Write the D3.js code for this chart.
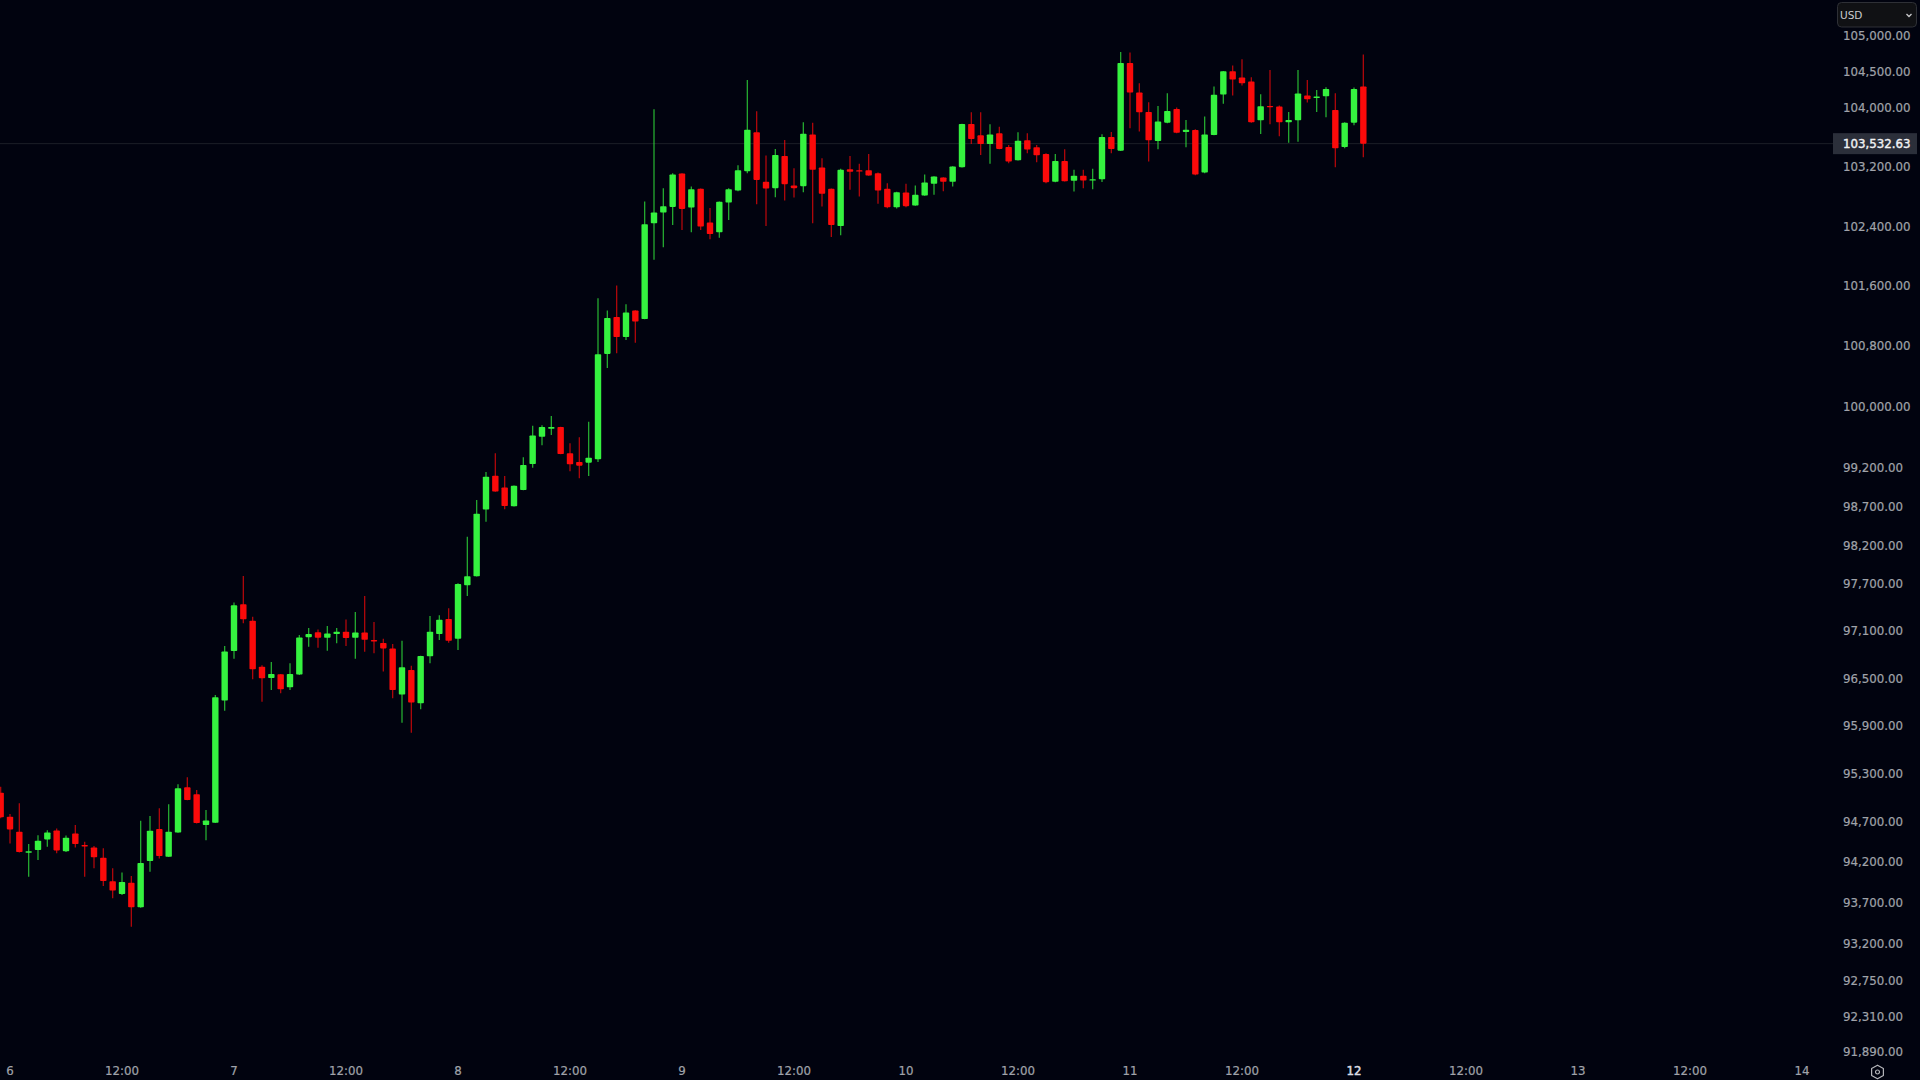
<!DOCTYPE html>
<html>
<head>
<meta charset="utf-8">
<title>BTC/USD 1h</title>
<script src="https://cdn.jsdelivr.net/npm/d3@7"></script>
<style>
  html, body { margin: 0; padding: 0; background: #01030f; overflow: hidden; }
  svg { display: block; }
  text { font-family: "DejaVu Sans", sans-serif; }
  .domain, .tick line { display: none; }
</style>
</head>
<body>
<svg></svg>
<script>
// hourly candles, first one is 5 May 23:00
const firstCandle = Date.UTC(2025, 4, 5, 23);

const opens = [
  95059,94760,94573,94313,94346,94478,94589,94330,94552,94408,94379,94252,
  93960,93804,93943,93639,94210,94606,94264,94564,95126,95039,94656,94685,
  96215,96843,97439,97230,96645,96501,96548,96383,96544,97020,97084,97012,
  97059,97089,97012,97080,96983,96945,96877,96291,96603,96181,96776,97059,
  97251,97000,97683,97799,98658,99099,98944,98701,98913,99251,99606,99711,
  99733,99390,99277,99268,99312,100695,101185,100918,101270,101158,102437,102581,
  102657,103108,102648,102901,102446,102315,102716,102878,103140,103667,102995,102910,
  103347,102946,102937,103639,103189,102901,102401,103167,103153,103153,103113,102901,
  102653,102851,102676,102811,102968,103054,102995,103194,103781,103626,103509,103653,
  103469,103288,103559,103464,103374,102995,103279,103009,103077,103013,103031,103603,
  103418,104616,104210,103945,103549,103799,103986,103671,103698,103121,103630,104182,
  104502,104415,104360,103831,104027,104018,103803,103831,104169,104137,104160,103972,
  103468,103799,104292,
];
const highs = [
  95134,94793,94927,94420,94531,94593,94614,94527,94656,94449,94395,94367,
  94120,94067,94025,94710,94768,94864,94914,95164,95251,95093,94843,96286,
  96906,97461,97803,97281,96662,96704,96552,96687,97046,97136,97119,97161,
  97136,97246,97341,97546,97213,97000,96932,96974,96658,96785,97290,97298,
  97388,97710,98308,98783,99147,99390,99095,98970,99338,99751,99755,99878,
  99738,99520,99598,99804,101434,101270,101603,101354,101275,102730,103982,102910,
  103113,103113,102932,102905,102644,102730,102910,103221,104383,103954,103351,103442,
  103563,103180,103803,103799,103315,102906,103171,103347,103239,103374,103122,102977,
  102860,102968,102946,103095,103072,103059,103207,103785,103940,103940,103776,103744,
  103496,103667,103653,103496,103383,103374,103437,103158,103158,103171,103640,103671,
  104767,104758,104338,104077,104027,104201,104004,103835,103708,103881,104292,104506,
  104580,104666,104420,104187,104520,104032,103945,104520,104383,104246,104283,104201,
  103803,104278,104730,
];
const lows = [
  94740,94428,94315,94017,94223,94387,94305,94321,94379,94017,94120,93902,
  93750,93791,93401,93635,94079,94243,94260,94560,94965,94677,94469,94682,
  96088,96746,97196,96485,96202,96350,96307,96350,96540,96898,96885,96848,
  96941,96907,96746,96835,96814,96582,96244,95936,95810,96105,96687,96983,
  96949,96856,97547,97795,98502,98888,98662,98697,98909,99203,99494,99628,
  99377,99156,99065,99095,99277,100510,100703,100879,100844,101154,101946,102115,
  102414,102347,102315,102347,102221,102244,102482,102869,103113,102694,102401,102788,
  102743,102784,102856,102437,102662,102252,102275,102887,102797,103077,102698,102639,
  102635,102653,102672,102807,102820,102869,102932,103190,103509,103360,103239,103438,
  103248,103284,103383,103261,102977,102991,103000,102865,102910,102896,102992,103383,
  103414,103721,103680,103270,103436,103790,103653,103463,103085,103112,103626,104055,
  104169,104306,103799,103644,103776,103612,103526,103540,104073,103945,103872,103193,
  103450,103762,103328,
];
const closes = [
  94752,94602,94321,94330,94461,94564,94342,94498,94420,94391,94256,93964,
  93845,93951,93639,94186,94585,94272,94573,95114,94968,94681,94714,96257,
  96839,97426,97247,96611,96497,96552,96358,96552,97016,97059,97012,97067,
  97089,97008,97080,96987,96966,96877,96350,96637,96190,96780,97089,97243,
  96974,97700,97799,98606,99086,98892,98705,98966,99238,99624,99733,99733,
  99381,99247,99229,99333,100690,101172,100918,101243,101123,102423,102581,102667,
  103095,102630,102896,102392,102293,102725,102896,103153,103703,103022,102905,103360,
  102964,102910,103648,103158,102833,102414,103158,103131,103135,103081,102878,102653,
  102856,102667,102820,102986,103068,102995,103203,103781,103577,103509,103639,103442,
  103270,103554,103433,103356,102991,103279,103004,103077,103013,103031,103603,103441,
  104616,104210,103940,103558,103813,103959,103662,103703,103094,103639,104178,104502,
  104388,104338,103803,104023,104009,103803,103835,104196,104118,104155,104260,103450,
  103799,104260,103513,
];

const lastPrice = 103532.63;
const currency = "USD";

const priceTicks = [
  105000, 104500, 104000, 103200, 102400, 101600, 100800, 100000, 99200, 98700,
  98200, 97700, 97100, 96500, 95900, 95300, 94700, 94200, 93700, 93200, 92750,
  92310, 91890,
];
const timeLabels = [
  "6", "12:00", "7", "12:00", "8", "12:00", "9", "12:00", "10", "12:00", "11",
  "12:00", "12", "12:00", "13", "12:00", "14",
];

const width = 1920;
const height = 1080;
const upColor = "#35f23f";
const downColor = "#fb0a0a";
const axisColor = "#a0a3aa";

const svg = d3.select("svg").attr("width", width).attr("height", height);
const hour = 3600 * 1000;
const timeTicks = timeLabels.map((d, i) => new Date(Date.UTC(2025, 4, 6) + i * 12 * hour));

const xScale = d3
  .scaleUtc()
  .domain([new Date(Date.UTC(2025, 4, 6)), new Date(Date.UTC(2025, 4, 14))])
  .range([10, 1802]);
const yScale = d3.scaleLog().domain([91890, 105000]).range([1051, 35]);

const candles = opens.map((open, i) => ({
  time: new Date(firstCandle + i * hour),
  open: open,
  high: highs[i],
  low: lows[i],
  close: closes[i],
}));

const candleColor = (d) => (d.close >= d.open ? upColor : downColor);
// the app's line sits on the last candle's close
const lastY = yScale(closes[closes.length - 1]);

const drawBackground = () => {
  svg.append("rect").attr("width", width).attr("height", height).attr("fill", "#01030f");
};

const drawPriceLine = () => {
  svg
    .append("line")
    .attr("x1", 0)
    .attr("x2", 1834)
    .attr("y1", lastY)
    .attr("y2", lastY)
    .attr("stroke", "#1c1f28")
    .attr("stroke-width", 1);
};

const drawCandles = () => {
  const g = svg.append("g").selectAll("g").data(candles).enter().append("g");

  g.append("line")
    .attr("x1", (d) => xScale(d.time))
    .attr("x2", (d) => xScale(d.time))
    .attr("y1", (d) => yScale(d.high))
    .attr("y2", (d) => yScale(d.low))
    .attr("stroke", candleColor)
    .attr("stroke-opacity", 0.7)
    .attr("stroke-width", 1.3);

  g.append("rect")
    .attr("x", (d) => xScale(d.time) - 3.2)
    .attr("width", 6.4)
    .attr("y", (d) => yScale(Math.max(d.open, d.close)))
    .attr("height", (d) => Math.max(1.4, Math.abs(yScale(d.open) - yScale(d.close))))
    .attr("rx", 0.8)
    .attr("fill", candleColor);
};

const drawAxes = () => {
  const yAxis = d3
    .axisRight(yScale)
    .tickValues(priceTicks)
    .tickFormat(d3.format(",.2f"))
    .tickSize(0)
    .tickPadding(0);
  const yAxisGroup = svg.append("g").attr("transform", "translate(1843, 0)").call(yAxis);
  yAxisGroup
    .selectAll("text")
    .attr("fill", axisColor)
    .attr("stroke", axisColor)
    .attr("stroke-width", 0.2)
    .attr("dy", "0.34em")
    .style("font-size", "11.8px");

  const xAxis = d3
    .axisBottom(xScale)
    .tickValues(timeTicks)
    .tickFormat((d, i) => timeLabels[i])
    .tickSize(0)
    .tickPadding(0);
  const xAxisGroup = svg.append("g").attr("transform", "translate(-0.5, 1067)").call(xAxis);
  xAxisGroup
    .selectAll("text")
    .attr("fill", (d, i) => (timeLabels[i] === "12" ? "#dcdde1" : axisColor))
    .attr("stroke", (d, i) => (timeLabels[i] === "12" ? "#dcdde1" : axisColor))
    .attr("stroke-width", (d, i) => (timeLabels[i] === "12" ? 0.5 : 0.2))
    .style("font-size", "11.8px");
};

const drawPriceLabel = () => {
  svg
    .append("rect")
    .attr("x", 1833)
    .attr("y", lastY - 10.5)
    .attr("width", 84)
    .attr("height", 21)
    .attr("fill", "#2b2f3a");
  svg
    .append("text")
    .attr("x", 1843)
    .attr("y", lastY)
    .attr("dy", "0.36em")
    .attr("fill", "#f1f2f4")
    .attr("stroke", "#f1f2f4")
    .attr("stroke-width", 0.4)
    .style("font-size", "11.8px")
    .text(d3.format(",.2f")(lastPrice));
};

const drawCurrencyBox = () => {
  // covers the top of the 105,000 label, like the dropdown does in the app
  svg.append("rect").attr("x", 1834).attr("y", 0).attr("width", 86).attr("height", 31).attr("fill", "#01030f");
  svg
    .append("rect")
    .attr("x", 1837.5)
    .attr("y", 2.5)
    .attr("width", 79)
    .attr("height", 24.5)
    .attr("rx", 4)
    .attr("fill", "#101114")
    .attr("stroke", "#2e3036");
  svg
    .append("text")
    .attr("x", 1840)
    .attr("y", 15)
    .attr("dy", "0.35em")
    .attr("fill", "#c9cacd")
    .style("font-size", "10.5px")
    .text(currency);
  svg
    .append("path")
    .attr("d", "M1906.5,14 L1909,16.5 L1911.5,14")
    .attr("fill", "none")
    .attr("stroke", "#c9cacd")
    .attr("stroke-width", 1.3);
};

const drawSettingsIcon = () => {
  const g = svg.append("g").attr("transform", "translate(1877.5, 1072)");
  const hexagon = d3.range(6).map((i) => {
    const a = (Math.PI / 3) * i + Math.PI / 6;
    return [6.8 * Math.cos(a), 6.8 * Math.sin(a)];
  });
  g.append("polygon")
    .attr("points", hexagon.join(" "))
    .attr("fill", "none")
    .attr("stroke", "#b4b5b9")
    .attr("stroke-width", 1.2)
    .attr("stroke-linejoin", "round");
  g.append("circle").attr("r", 2).attr("fill", "none").attr("stroke", "#b4b5b9").attr("stroke-width", 1.2);
};

drawBackground();
drawPriceLine();
drawCandles();
drawAxes();
drawPriceLabel();
drawCurrencyBox();
drawSettingsIcon();
</script>
</body>
</html>
